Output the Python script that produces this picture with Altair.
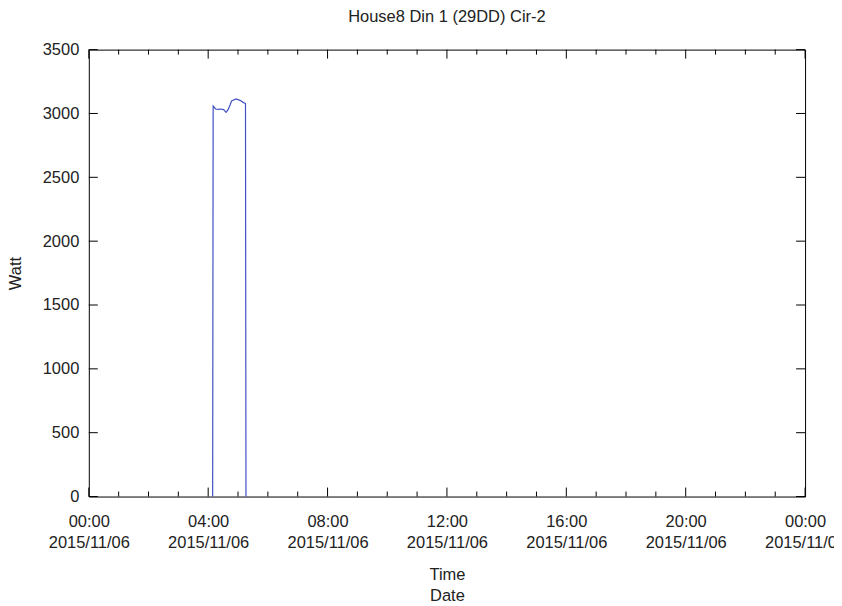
import altair as alt
import pandas as pd

DAY = "2015-11-06"
NEXT_DAY = "2015-11-07"

# measured power readings (time of day, watts)
times = ["04:09", "04:10", "04:15", "04:20", "04:25", "04:31", "04:36", "04:40",
         "04:44", "04:47", "04:51", "04:56", "05:00", "05:04", "05:11", "05:14",
         "05:15", "05:16"]
watts = [0, 3058, 3035, 3032, 3035, 3030, 3009, 3030,
         3067, 3098, 3105, 3114, 3108, 3103, 3085, 3080,
         3078, 0]

# axis ticks
major_hours = [0, 4, 8, 12, 16, 20, 24]
minor_hours = [h for h in range(0, 25) if h % 4 != 0]
y_ticks = [0, 500, 1000, 1500, 2000, 2500, 3000, 3500]


def ts(hm, day=DAY):
    return f"{day}T{hm}:00Z"


def hour_ts(h):
    return ts("00:00", NEXT_DAY) if h == 24 else ts(f"{h:02d}:00")


line_df = pd.DataFrame({"t": [ts(t) for t in times], "w": watts})
major_df = pd.DataFrame({"t": [hour_ts(h) for h in major_hours]})
minor_df = pd.DataFrame({"t": [hour_ts(h) for h in minor_hours]})
ytick_df = pd.DataFrame({"w": y_ticks})

W, H = 718, 448
FONT = "Liberation Sans"
TXT = "#222222"

xscale = alt.Scale(type="utc", domain=[ts("00:00"), ts("00:00", NEXT_DAY)], nice=False)
yscale = alt.Scale(domain=[0, 3500], nice=False, zero=True)

x_axis = alt.Axis(
    values=[alt.DateTime(year=2015, month=11, date=6 + (h // 24), hours=h % 24, utc=True)
            for h in major_hours],
    labelExpr="[utcFormat(datum.value, '%H:%M'), utcFormat(datum.value, '%Y/%m/%d')]",
    labelFontSize=16.5, labelFont=FONT, labelColor=TXT, labelPadding=17,
    labelLineHeight=21, labelFlush=False, labelOverlap=False, labelBound=False,
    ticks=False, tickSize=0, domain=False, grid=False,
    title=["Time", "Date"], titleFont=FONT, titleFontSize=16.5, titleFontWeight="normal",
    titleColor=TXT, titleLineHeight=21, titleBaseline="alphabetic", titleY=83,
    titleX=W / 2, titleAlign="center",
)
y_axis = alt.Axis(
    values=y_ticks, format="d",
    labelFontSize=16.5, labelFont=FONT, labelColor=TXT, labelPadding=10,
    ticks=False, tickSize=0, domain=False, grid=False,
    title="Watt", titleFont=FONT, titleFontSize=16.5, titleFontWeight="normal",
    titleColor=TXT, titleAngle=-90, titleBaseline="bottom", titleX=-65, titleY=H / 2,
    titleAlign="center",
)

line = alt.Chart(line_df).mark_line(color="#4150c4", strokeWidth=1.2).encode(
    x=alt.X("t:T", scale=xscale, axis=x_axis),
    y=alt.Y("w:Q", scale=yscale, axis=y_axis),
)

tick_style = dict(color="#000000", strokeWidth=1)
bx_major = alt.Chart(major_df).mark_rule(**tick_style).encode(
    x=alt.X("t:T"), y=alt.value(H), y2=alt.value(H - 9))
bx_minor = alt.Chart(minor_df).mark_rule(**tick_style).encode(
    x=alt.X("t:T"), y=alt.value(H), y2=alt.value(H - 5))
tx_major = alt.Chart(major_df).mark_rule(**tick_style).encode(
    x=alt.X("t:T"), y=alt.value(0), y2=alt.value(9))
tx_minor = alt.Chart(minor_df).mark_rule(**tick_style).encode(
    x=alt.X("t:T"), y=alt.value(0), y2=alt.value(5))
ly = alt.Chart(ytick_df).mark_rule(**tick_style).encode(
    y=alt.Y("w:Q"), x=alt.value(0), x2=alt.value(9))
ry = alt.Chart(ytick_df).mark_rule(**tick_style).encode(
    y=alt.Y("w:Q"), x=alt.value(W), x2=alt.value(W - 9))

chart = alt.layer(line, bx_major, bx_minor, tx_major, tx_minor, ly, ry).properties(
    width=W, height=H,
    background="white",
    title=alt.TitleParams("House8 Din 1 (29DD) Cir-2", font=FONT, fontSize=16.5,
                          fontWeight="normal", color=TXT, anchor="middle", offset=16),
    autosize=alt.AutoSizeParams(type="none"),
    padding={"left": 81, "top": 41, "right": 29, "bottom": 110},
).configure_view(stroke="#000000", strokeWidth=1)

chart.save("out.html", embed_options={"renderer": "svg", "actions": False})
